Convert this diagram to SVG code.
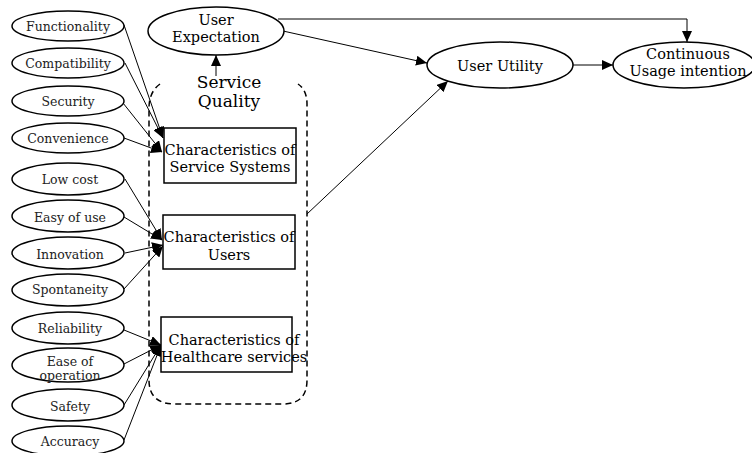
<svg xmlns="http://www.w3.org/2000/svg" width="752" height="453" viewBox="0 0 752 453">
<defs>
<marker id="ah" markerUnits="userSpaceOnUse" markerWidth="12" markerHeight="10" refX="11" refY="5" orient="auto">
<path d="M0,0 L11,5 L0,10 Z" fill="#000"/>
</marker>
<style>
.el{fill:#fff;stroke:#000;stroke-width:1.5}
.bx{fill:#fff;stroke:#000;stroke-width:1.5}
.sm{font-family:"DejaVu Serif","Liberation Serif",serif;font-size:12.5px;fill:#222;text-anchor:middle;dominant-baseline:central}
.md{font-family:"DejaVu Serif","Liberation Serif",serif;font-size:14.5px;fill:#000;text-anchor:middle;dominant-baseline:central}
.lg{font-family:"DejaVu Serif","Liberation Serif",serif;font-size:17px;fill:#000;text-anchor:middle;dominant-baseline:central}
.cn{fill:none;stroke:#000;stroke-width:1}
.ar{fill:none;stroke:#000;stroke-width:1;marker-end:url(#ah)}
</style>
</defs>
<rect width="752" height="453" fill="#fff"/>

<g id="service-quality">
<path d="M160,84 Q149,92 149,108 L149,380 Q149,404 175,404 L283,404 Q307,404 307,380 L307,104 Q307,90 298,84" fill="none" stroke="#000" stroke-width="1.5" stroke-dasharray="6,4"/>
<text class="lg" x="229" y="82">Service</text>
<text class="lg" x="229" y="101">Quality</text>
</g>

<g id="connectors">
<line class="ar" x1="124" y1="25" x2="163" y2="138"/>
<line class="ar" x1="125" y1="63" x2="163" y2="138"/>
<line class="ar" x1="123" y1="103" x2="162" y2="152"/>
<line class="ar" x1="124" y1="138" x2="162" y2="152"/>
<line class="ar" x1="125" y1="179" x2="162" y2="240"/>
<line class="ar" x1="124" y1="217" x2="162" y2="240"/>
<line class="ar" x1="125" y1="253" x2="163" y2="245"/>
<line class="ar" x1="124" y1="289" x2="163" y2="246"/>
<line class="ar" x1="124" y1="330" x2="161" y2="345"/>
<line class="ar" x1="124" y1="364" x2="161" y2="345"/>
<line class="ar" x1="124" y1="405" x2="161" y2="345"/>
<line class="ar" x1="124" y1="440" x2="161" y2="345"/>
<line class="ar" x1="216" y1="76" x2="216" y2="55"/>
<polyline class="ar" points="278,19 687,19 687,42"/>
<line class="ar" x1="283" y1="31" x2="427" y2="63"/>
<line class="ar" x1="573" y1="65" x2="613" y2="65"/>
<line class="ar" x1="307" y1="214" x2="448" y2="81"/>
</g>

<g id="functionality"><ellipse class="el" cx="68" cy="26" rx="56" ry="15"/><text class="sm" x="68" y="26">Functionality</text></g>
<g id="compatibility"><ellipse class="el" cx="68" cy="63" rx="56" ry="15"/><text class="sm" x="68" y="63">Compatibility</text></g>
<g id="security"><ellipse class="el" cx="68" cy="101" rx="56" ry="15"/><text class="sm" x="68" y="101">Security</text></g>
<g id="convenience"><ellipse class="el" cx="68" cy="138" rx="56" ry="15"/><text class="sm" x="68" y="138">Convenience</text></g>
<g id="low-cost"><ellipse class="el" cx="68" cy="179" rx="56" ry="16"/><text class="sm" x="70" y="179">Low cost</text></g>
<g id="easy-of-use"><ellipse class="el" cx="68" cy="216" rx="56" ry="16"/><text class="sm" x="70" y="217">Easy of use</text></g>
<g id="innovation"><ellipse class="el" cx="68" cy="253" rx="56" ry="16"/><text class="sm" x="70" y="254">Innovation</text></g>
<g id="spontaneity"><ellipse class="el" cx="68" cy="290" rx="56" ry="16"/><text class="sm" x="70" y="289">Spontaneity</text></g>
<g id="reliability"><ellipse class="el" cx="68" cy="328" rx="56" ry="16"/><text class="sm" x="70" y="328">Reliability</text></g>
<g id="ease-of-operation"><ellipse class="el" cx="68" cy="365" rx="56" ry="17"/><text class="sm" x="70" y="361">Ease of</text><text class="sm" x="70" y="375">operation</text></g>
<g id="safety"><ellipse class="el" cx="68" cy="405" rx="56" ry="16"/><text class="sm" x="70" y="406">Safety</text></g>
<g id="accuracy"><ellipse class="el" cx="68" cy="441" rx="56" ry="15"/><text class="sm" x="70" y="441">Accuracy</text></g>

<g id="user-expectation"><ellipse class="el" cx="216" cy="31" rx="68" ry="24"/><text class="md" x="216" y="20">User</text><text class="md" x="216" y="37">Expectation</text></g>
<g id="user-utility"><ellipse class="el" cx="500" cy="65" rx="73" ry="23"/><text class="md" x="500" y="66">User Utility</text></g>
<g id="continuous-usage"><ellipse class="el" cx="684" cy="65" rx="71" ry="23"/><text class="md" x="688" y="54">Continuous</text><text class="md" x="688" y="71">Usage intention</text></g>

<g id="char-service-systems"><rect class="bx" x="164" y="128" width="132" height="55"/><text class="md" x="230" y="150">Characteristics of</text><text class="md" x="230" y="167">Service Systems</text></g>
<g id="char-users"><rect class="bx" x="163" y="215" width="132" height="54"/><text class="md" x="229" y="237">Characteristics of</text><text class="md" x="229" y="255">Users</text></g>
<g id="char-healthcare"><rect class="bx" x="161" y="317" width="131" height="55"/><text class="md" x="234" y="340">Characteristics of</text><text class="md" x="234" y="357">Healthcare services</text></g>
</svg>
